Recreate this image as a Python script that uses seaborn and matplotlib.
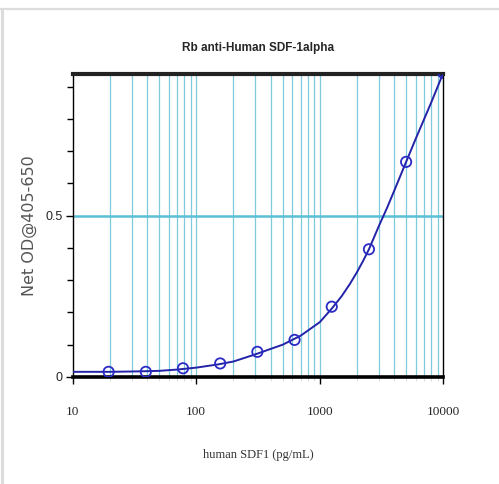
import matplotlib
matplotlib.use("Agg")
from matplotlib import pyplot as plt
from matplotlib.lines import Line2D
from matplotlib.ticker import FixedLocator, NullFormatter
import seaborn as sns
import pandas as pd

# standards (pg/mL) and measured net OD
conc = [19.53, 39.06, 78.13, 156.25, 312.5, 625, 1250, 2500, 5000, 10000]
od = [0.016, 0.016, 0.027, 0.042, 0.078, 0.115, 0.218, 0.396, 0.667, 0.943]

# fitted curve
fit_x = [10, 20, 30, 40, 50, 70, 100, 150, 200, 300, 400, 500, 700, 1000,
         1250, 1500, 1750, 2000, 2250, 2500, 3000, 3500, 4000, 5000, 6000,
         7000, 8000, 10000]
fit_y = [0.016, 0.016, 0.017, 0.018, 0.019, 0.023, 0.029, 0.039, 0.048, 0.070,
         0.087, 0.100, 0.128, 0.170, 0.212, 0.250, 0.288, 0.325, 0.361, 0.396,
         0.467, 0.524, 0.577, 0.667, 0.740, 0.800, 0.852, 0.943]

grid_x = [m * 10 ** e for e in (1, 2, 3) for m in range(2, 10)] + [100, 1000]

pts = pd.DataFrame({"conc": conc, "od": od})
fit = pd.DataFrame({"conc": fit_x, "od": fit_y})

sns.set_style("white")

fig = plt.figure(figsize=(4.99, 4.84), dpi=100)
ax = fig.add_axes([0.1457, 0.2211, 0.8884 - 0.1457, 0.8481 - 0.2211])

# light blue grid
for g in grid_x:
    ax.axvline(g, color="#7fcbdc", lw=0.9, zorder=0)
ax.axhline(0.5, color="#5bbfd8", lw=1.8, zorder=0)

sns.lineplot(data=fit, x="conc", y="od", ax=ax, color="#2323a8", lw=1.4, zorder=3)
sns.scatterplot(data=pts, x="conc", y="od", ax=ax, marker="o", s=55,
                facecolors="none", edgecolor="#2a2ac4", linewidth=1.3, zorder=4)

ax.set_xscale("log")
ax.set_xlim(10, 10000)
ax.set_ylim(0, 0.941)

ax.xaxis.set_major_locator(FixedLocator([10, 100, 1000, 10000]))
ax.set_xticklabels(["10", "100", "1000", "10000"], family="Liberation Serif", fontsize=9.5)
ax.xaxis.set_minor_locator(FixedLocator(grid_x))
ax.xaxis.set_minor_formatter(NullFormatter())
ax.set_yticks([0, 0.5])
ax.set_yticklabels(["0", "0.5"], family="Liberation Sans", fontsize=9)
ax.set_yticks([0.1, 0.2, 0.3, 0.4, 0.6, 0.7, 0.8, 0.9], minor=True)

ax.tick_params(axis="x", which="major", direction="out", length=5, width=1,
               color="black", bottom=True, pad=16)
ax.tick_params(axis="y", which="major", direction="out", length=5, width=1,
               color="black", left=True, pad=2)
ax.tick_params(axis="x", which="minor", direction="out", length=3, width=0.8,
               color="#dddddd", bottom=True)
ax.tick_params(axis="y", which="minor", direction="out", length=4, width=1,
               color="black", left=True)

for side in ["left", "right"]:
    ax.spines[side].set_linewidth(1)
    ax.spines[side].set_color("black")
ax.spines["top"].set_linewidth(3)
ax.spines["top"].set_color("#222222")
ax.spines["bottom"].set_linewidth(2.6)
ax.spines["bottom"].set_color("black")

ax.set_title("Rb anti-Human SDF-1alpha", fontsize=8.5, fontweight="bold",
             family="Liberation Sans", pad=16)
ax.set_xlabel("human SDF1 (pg/mL)", family="Liberation Serif", fontsize=9,
              color="#333333", labelpad=22)
ax.set_ylabel("Net OD@405-650", fontsize=11.5, color="#555555", labelpad=6)

# light grey frame of the picture
fig.add_artist(Line2D([0, 1], [1 - 9 / 484, 1 - 9 / 484], color="#dcdcdc", lw=1.6))
fig.add_artist(Line2D([1.5 / 499, 1.5 / 499], [0, 1 - 9 / 484], color="#dcdcdc", lw=2.2))

fig.savefig("out.png", dpi=100)
